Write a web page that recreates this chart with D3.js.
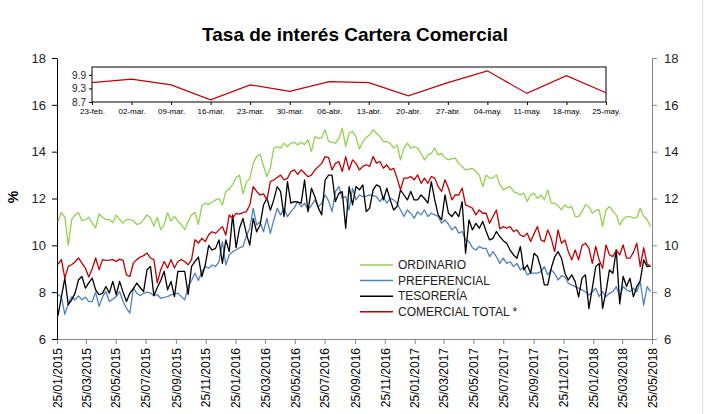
<!DOCTYPE html>
<html>
<head>
<meta charset="utf-8">
<script src="https://d3js.org/d3.v7.min.js"></script>
<style>
  body { margin: 0; background: #fff; }
  svg { font-family: "Liberation Sans", Arial, sans-serif; }
</style>
</head>
<body>
<svg id="chart" width="708" height="414"></svg>
<script>
// weekly series, 25/01/2015 - 25/05/2018
const ordinario = [
  11.0, 11.4, 11.2, 10.0, 11.1, 11.3, 11.4, 11.05, 11.1, 11.2,
  10.95, 10.75, 11.35, 11.2, 11.1, 11.1, 10.96, 11.3, 11.1, 10.95,
  11.1, 11.1, 11.05, 10.9, 10.93, 11.1, 11.3, 11.17, 10.81, 11.2,
  10.67, 10.89, 11.39, 11.03, 11.24, 11.03, 10.89, 10.67, 11.03, 11.3,
  11.41, 10.89, 11.7, 11.8, 11.75, 11.84, 11.94, 12.0, 11.72, 12.3,
  12.4, 12.6, 12.9, 13.0, 12.2, 12.7, 12.86, 13.5, 13.8, 13.89,
  13.4, 12.93, 13.3, 14.15, 14.22, 14.15, 14.36, 14.22, 14.36, 14.4,
  14.29, 14.4, 14.3, 14.5, 14.0, 14.64, 14.57, 14.6, 14.93, 14.43,
  14.4, 14.36, 14.57, 15.0, 14.22, 14.79, 14.86, 14.65, 14.1, 14.43,
  14.6, 14.72, 14.93, 14.79, 14.65, 14.43, 14.43, 14.36, 14.15, 14.29,
  13.65, 14.15, 14.36, 14.15, 14.22, 14.15, 13.93, 13.65, 13.86, 13.93,
  14.15, 13.86, 13.93, 13.72, 13.65, 13.7, 13.72, 13.5, 13.36, 13.22,
  13.25, 13.29, 13.15, 13.0, 12.5, 13.0, 12.87, 12.87, 13.01, 12.6,
  12.37, 12.44, 12.51, 12.3, 12.23, 12.15, 12.23, 11.87, 12.15, 12.23,
  12.0, 12.15, 11.94, 12.37, 11.8, 11.8, 11.7, 11.51, 11.73, 11.6,
  11.66, 11.23, 11.23, 11.44, 11.73, 11.66, 11.37, 11.5, 11.51, 10.8,
  11.51, 11.66, 11.45, 11.3, 10.87, 11.1, 11.23, 11.23, 11.16, 11.2,
  11.58, 11.23, 11.1, 10.8
];

const preferencial = [
  7.9, 7.8, 7.05, 7.5, 7.8, 7.67, 7.84, 7.67, 7.79, 7.6,
  7.6, 8.0, 7.39, 7.8, 8.03, 7.6, 7.7, 7.81, 8.03, 7.6,
  7.31, 7.1, 8.17, 7.96, 7.85, 7.95, 8.0, 7.96, 7.85, 7.89,
  7.74, 7.78, 7.81, 7.89, 7.92, 7.96, 7.81, 7.67, 8.24, 8.5,
  8.81, 8.5, 8.87, 9.09, 9.02, 9.16, 9.09, 9.3, 10.16, 9.16,
  9.59, 9.73, 9.8, 9.9, 9.94, 10.4, 10.73, 11.58, 10.87, 11.01,
  10.58, 11.15, 10.51, 11.08, 11.58, 11.3, 11.58, 11.23, 11.44, 11.6,
  11.87, 11.65, 11.8, 11.51, 11.7, 11.94, 11.65, 11.8, 12.15, 11.9,
  11.44, 12.29, 12.51, 12.01, 12.08, 11.51, 12.44, 11.94, 12.15, 12.08,
  12.1, 12.15, 12.12, 12.08, 11.87, 12.08, 11.8, 12.01, 11.94, 11.8,
  11.51, 11.23, 11.51, 11.37, 11.16, 11.44, 11.3, 11.51, 11.23, 11.37,
  11.3, 11.23, 10.94, 11.09, 10.9, 10.66, 10.8, 10.52, 10.59, 10.23,
  10.16, 9.9, 9.8, 9.95, 9.87, 9.87, 9.52, 9.73, 9.52, 9.23,
  9.45, 9.23, 9.3, 9.09, 9.23, 8.95, 9.09, 8.74, 8.81, 8.81,
  8.81, 8.88, 9.09, 8.74, 8.95, 8.81, 8.52, 8.7, 8.66, 8.38,
  8.3, 8.24, 8.17, 8.1, 8.02, 7.88, 8.02, 8.17, 7.81, 8.02,
  7.81, 7.95, 8.02, 8.24, 7.81, 8.24, 8.1, 8.02, 8.17, 8.02,
  8.45, 7.45, 8.24, 8.02
];

const tesoreria = [
  7.0, 7.8, 8.6, 7.46, 7.67, 7.96, 8.53, 8.67, 8.17, 8.4,
  8.6, 8.1, 7.89, 7.95, 8.24, 7.96, 8.46, 7.89, 8.46, 8.0,
  7.6, 7.96, 8.15, 8.39, 8.2, 8.03, 8.96, 9.1, 7.85, 8.2,
  8.5, 8.89, 8.1, 8.46, 7.81, 8.89, 8.89, 8.89, 7.9, 9.1,
  9.31, 9.5, 8.66, 9.16, 10.0, 9.8, 9.87, 10.23, 9.23, 10.23,
  9.73, 11.3, 9.9, 10.73, 11.15, 10.5, 10.01, 11.15, 10.58, 10.87,
  11.72, 12.01, 11.5, 11.94, 12.51, 12.29, 11.23, 12.72, 11.8, 11.87,
  11.85, 11.8, 12.79, 11.44, 12.44, 12.08, 11.6, 11.3, 12.79, 13.0,
  13.0, 11.87, 12.22, 12.29, 10.73, 12.51, 11.73, 12.51, 12.37, 12.58,
  11.44, 11.59, 12.37, 12.58, 12.51, 11.94, 12.44, 11.94, 11.51, 11.66,
  12.37, 12.15, 11.94, 12.3, 11.94, 11.94, 12.15, 12.0, 11.8, 12.72,
  11.94, 11.3, 11.09, 12.15, 11.37, 11.23, 11.44, 11.23, 11.87, 9.66,
  11.09, 10.66, 10.94, 10.73, 11.02, 10.6, 10.23, 10.3, 10.59, 10.37,
  10.2, 10.09, 9.8, 9.59, 9.45, 9.95, 8.95, 9.16, 8.81, 9.66,
  9.52, 9.02, 8.31, 8.31, 9.02, 9.5, 9.73, 9.45, 8.81, 8.52,
  8.74, 8.45, 7.8, 8.6, 8.74, 7.3, 8.17, 9.09, 9.23, 7.3,
  8.02, 8.95, 8.81, 9.8, 7.5, 8.67, 8.24, 8.59, 7.8, 8.24,
  8.5, 9.38, 9.09, 9.12
];

const comercialTotal = [
  9.2, 9.39, 8.6, 9.1, 9.17, 9.3, 9.46, 9.24, 9.03, 8.65,
  9.0, 9.46, 8.96, 9.39, 9.36, 9.37, 9.39, 9.31, 9.41, 9.36,
  8.74, 8.67, 9.24, 9.39, 9.5, 9.56, 9.67, 9.46, 9.39, 8.4,
  8.96, 9.31, 9.03, 9.39, 9.03, 9.31, 9.39, 9.31, 9.17, 9.39,
  10.24, 10.1, 10.3, 10.16, 10.45, 10.58, 10.51, 10.66, 10.8, 10.44,
  11.3, 11.15, 11.37, 11.33, 11.4, 11.44, 11.72, 12.51, 12.3, 12.15,
  12.2, 11.94, 12.72, 12.79, 12.9, 13.0, 12.79, 12.86, 13.15, 13.22,
  13.03, 13.22, 13.08, 12.93, 13.0, 13.22, 13.36, 13.5, 13.79, 13.75,
  13.22, 13.5, 13.58, 13.15, 13.79, 13.22, 13.65, 13.5, 13.22, 13.37,
  13.44, 13.37, 13.79, 13.51, 13.58, 13.29, 13.44, 13.22, 13.29, 12.87,
  12.37, 12.87, 12.87, 12.94, 12.8, 13.01, 12.65, 12.87, 12.65, 12.94,
  12.87, 12.51, 12.3, 12.8, 12.44, 11.94, 12.15, 12.15, 12.44, 11.73,
  11.66, 11.59, 11.3, 11.51, 11.37, 11.37, 10.94, 11.23, 11.51, 10.7,
  10.8, 10.73, 10.8, 10.59, 10.66, 10.44, 10.37, 10.52, 10.16, 10.5,
  10.8, 10.23, 10.16, 10.66, 10.3, 9.73, 10.66, 10.09, 10.23, 9.73,
  9.38, 9.8, 9.38, 10.0, 10.09, 9.88, 9.23, 9.95, 9.38, 9.02,
  10.02, 9.6, 9.52, 9.8, 9.59, 10.02, 9.45, 9.45, 9.7, 10.09,
  9.09, 9.9, 9.2, 9.1
];

const seriesNames = ["ORDINARIO", "PREFERENCIAL", "TESORERÍA", "COMERCIAL TOTAL *"];
const seriesColors = ["#92d050", "#4f81bd", "#000000", "#c00000"];

const yTicks = [6, 8, 10, 12, 14, 16, 18];

// inset: last weeks of COMERCIAL TOTAL
const insetLabels = ["23-feb.", "02-mar.", "09-mar.", "16-mar.", "23-mar.", "30-mar.", "06-abr.",
  "13-abr.", "20-abr.", "27-abr.", "04-may.", "11-may.", "18-may.", "25-may."];
const insetValues = [9.56, 9.71, 9.46, 8.80, 9.46, 9.17, 9.60, 9.56, 8.97, 9.56, 10.08, 9.08, 9.87, 9.11];
const insetTicks = [8.7, 9.3, 9.9];

const svg = d3.select("#chart");

const area = { left: 57, right: 652, top: 58, bottom: 339 };

const startDate = new Date(2015, 0, 27);
const dates = ordinario.map((d, i) => d3.timeDay.offset(startDate, 7 * i));

const scaleX = d3.scaleTime()
  .domain([new Date(2015, 0, 25), new Date(2018, 4, 25)])
  .range([area.left, area.right]);

const scaleY = d3.scaleLinear()
  .domain([6, 18])
  .range([area.bottom, area.top]);

const xTicks = d3.range(21).map(k => new Date(2015, 2 * k, 25));

// chart border on the right
svg.append("line")
  .attr("x1", 702.5).attr("x2", 702.5)
  .attr("y1", 0).attr("y2", 414)
  .attr("stroke", "#d9d9d9");

// title
svg.append("text")
  .attr("x", 355)
  .attr("y", 41)
  .attr("text-anchor", "middle")
  .style("font-size", "19px")
  .style("font-weight", "bold")
  .text("Tasa de interés Cartera Comercial");

svg.append("text")
  .attr("transform", "translate(18, 197) rotate(-90)")
  .attr("text-anchor", "middle")
  .style("font-size", "14px")
  .style("font-weight", "bold")
  .text("%");

// axes
const axisBottom = svg.append("g")
  .attr("transform", `translate(0, ${area.bottom})`)
  .call(d3.axisBottom(scaleX).tickValues(xTicks).tickFormat(d3.timeFormat("%d/%m/%Y")).tickSize(5).tickSizeOuter(0));
axisBottom.select(".domain").attr("stroke", "#868686");
axisBottom.selectAll(".tick line").attr("stroke", "#868686");
axisBottom.selectAll("text")
  .style("font-size", "12px")
  .attr("fill", "#000")
  .attr("transform", "rotate(-90)")
  .attr("text-anchor", "end")
  .attr("x", -9)
  .attr("y", 0)
  .attr("dy", "0.35em");

const axisLeft = svg.append("g")
  .attr("transform", `translate(${area.left}, 0)`)
  .call(d3.axisLeft(scaleY).tickValues(yTicks).tickSize(5).tickSizeOuter(0).tickPadding(6));
axisLeft.select(".domain").attr("stroke", "#000");
axisLeft.selectAll("text").style("font-size", "13px").attr("fill", "#222");

const axisRight = svg.append("g")
  .attr("transform", `translate(${area.right}, 0)`)
  .call(d3.axisRight(scaleY).tickValues(yTicks).tickSize(5).tickSizeOuter(0).tickPadding(7));
axisRight.select(".domain").attr("stroke", "#868686");
axisRight.selectAll(".tick line").attr("stroke", "#868686");
axisRight.selectAll("text").style("font-size", "13px").attr("fill", "#222");

// lines
const allSeries = [ordinario, preferencial, tesoreria, comercialTotal];

const line = d3.line()
  .x((d, i) => scaleX(dates[i]))
  .y(d => scaleY(d));

svg.append("g")
  .selectAll("path")
  .data(allSeries)
  .enter()
  .append("path")
  .attr("fill", "none")
  .attr("stroke", (d, i) => seriesColors[i])
  .attr("stroke-width", 1.3)
  .attr("stroke-linejoin", "round")
  .attr("d", line);

// legend
const legend = svg.append("g");
seriesNames.forEach((name, i) => {
  const y = 265 + i * 15.6;
  legend.append("line")
    .attr("x1", 360).attr("x2", 393)
    .attr("y1", y).attr("y2", y)
    .attr("stroke", seriesColors[i])
    .attr("stroke-width", 1.5);
  legend.append("text")
    .attr("x", 398)
    .attr("y", y)
    .attr("dy", "0.35em")
    .style("font-size", "12px")
    .attr("fill", "#222")
    .text(name);
});

// inset chart
const inset = { left: 92, right: 606, top: 67, bottom: 102 };

const insetX = d3.scalePoint()
  .domain(insetLabels)
  .range([inset.left, inset.right]);

const insetY = d3.scaleLinear()
  .domain([8.7, 10.25])
  .range([inset.bottom, inset.top]);

svg.append("rect")
  .attr("x", inset.left)
  .attr("y", inset.top)
  .attr("width", inset.right - inset.left)
  .attr("height", inset.bottom - inset.top)
  .attr("fill", "#fff")
  .attr("stroke", "#000");

const insetAxisX = svg.append("g")
  .attr("transform", `translate(0, ${inset.bottom})`)
  .call(d3.axisBottom(insetX).tickSize(3).tickSizeOuter(0).tickPadding(3));
insetAxisX.select(".domain").remove();
insetAxisX.selectAll("text").style("font-size", "8px").attr("fill", "#000");

const insetAxisY = svg.append("g")
  .attr("transform", `translate(${inset.left}, 0)`)
  .call(d3.axisLeft(insetY).tickValues(insetTicks).tickFormat(d3.format(".1f")).tickSize(3).tickPadding(3));
insetAxisY.select(".domain").remove();
insetAxisY.selectAll("text").style("font-size", "10px").attr("fill", "#222");

svg.append("path")
  .datum(insetValues)
  .attr("fill", "none")
  .attr("stroke", "#c00000")
  .attr("stroke-width", 1.2)
  .attr("d", d3.line()
    .x((d, i) => insetX(insetLabels[i]))
    .y(d => insetY(d)));
</script>
</body>
</html>
